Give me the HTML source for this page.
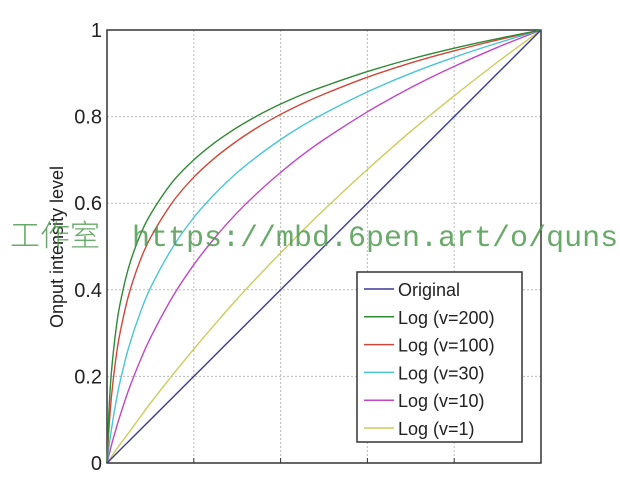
<!DOCTYPE html>
<html><head><meta charset="utf-8"><style>
body{margin:0;background:#fff;}
svg{display:block;font-family:"Liberation Sans",sans-serif;}
</style></head><body>
<svg id="chart" width="620" height="483"></svg>
<script>
const xs=[0,0.005,0.01,0.02,0.03,0.05,0.075,0.1,0.15,0.2,0.25,0.3,0.35,0.4,0.45,0.5,0.6,0.7,0.8,0.9,1];
const seriesNames=["Original","Log (v=200)","Log (v=100)","Log (v=30)","Log (v=10)","Log (v=1)"];
const original=[0,0.005,0.01,0.02,0.03,0.05,0.075,0.1,0.15,0.2,0.25,0.3,0.35,0.4,0.45,0.5,0.6,0.7,0.8,0.9,1];
const log200=[0,0.131,0.207,0.303,0.367,0.452,0.523,0.574,0.648,0.700,0.741,0.775,0.804,0.829,0.851,0.870,0.904,0.933,0.958,0.980,1];
const log100=[0,0.088,0.150,0.238,0.300,0.388,0.464,0.520,0.601,0.660,0.706,0.744,0.777,0.805,0.830,0.852,0.891,0.924,0.952,0.977,1];
const log30=[0,0.041,0.076,0.137,0.187,0.267,0.343,0.404,0.496,0.567,0.623,0.671,0.711,0.747,0.779,0.807,0.857,0.900,0.937,0.970,1];
const log10=[0,0.020,0.040,0.076,0.109,0.169,0.233,0.289,0.382,0.458,0.522,0.578,0.627,0.671,0.711,0.747,0.811,0.867,0.916,0.960,1];
const log1=[0,0.007,0.014,0.029,0.043,0.070,0.104,0.138,0.202,0.263,0.322,0.379,0.433,0.485,0.536,0.585,0.678,0.766,0.848,0.926,1];
const yTicks=[0,0.2,0.4,0.6,0.8,1];
const yTickLabels=["0","0.2","0.4","0.6","0.8","1"];
const xTicks=[0,0.2,0.4,0.6,0.8,1];
const colors=["#3a3a9c","#2f8a35","#d0473a","#48c6d6","#c245c8","#cccc5a"];
const NS="http://www.w3.org/2000/svg";
const svg=document.getElementById('chart');
const L=107,R=541,T=30,B=463;
const sx=v=>L+v*(R-L), sy=v=>B-v*(B-T);
function mk(tag,attrs,parent){const e=document.createElementNS(NS,tag);for(const k in attrs)e.setAttribute(k,attrs[k]);(parent||svg).appendChild(e);return e;}
function smooth(pts){let d='M'+pts[0][0]+','+pts[0][1];for(let i=0;i<pts.length-1;i++){const p0=pts[Math.max(0,i-1)],p1=pts[i],p2=pts[i+1],p3=pts[Math.min(pts.length-1,i+2)];
const c1x=p1[0]+(p2[0]-p0[0])/6,c1y=p1[1]+(p2[1]-p0[1])/6,c2x=p2[0]-(p3[0]-p1[0])/6,c2y=p2[1]-(p3[1]-p1[1])/6;
d+=' C'+c1x.toFixed(1)+','+c1y.toFixed(1)+' '+c2x.toFixed(1)+','+c2y.toFixed(1)+' '+p2[0].toFixed(1)+','+p2[1].toFixed(1);}return d;}
xTicks.forEach((t,i)=>{if(t>0&&t<1){const g=mk('line',{x1:sx(t),x2:sx(t),y1:T,y2:B,stroke:'#bbb','stroke-dasharray':'2,2'});


const tk=mk('line',{x1:sx(t),x2:sx(t),y1:B,y2:B-5,stroke:'#333'});

}});
yTicks.forEach((t,i)=>{if(t>0&&t<1){const g=mk('line',{x1:L,x2:R,y1:sy(t),y2:sy(t),stroke:'#bbb','stroke-dasharray':'2,2'});

}
const lb=mk('text',{x:102,y:sy(t)+7,'text-anchor':'end','font-size':'20',fill:'#222'});
lb.textContent=yTickLabels[i];

});
const frame=mk('rect',{x:L,y:T,width:R-L,height:B-T,fill:'none',stroke:'#333','stroke-width':1.5});


const yl=mk('text',{x:0,y:0,transform:'translate(63,247) rotate(-90)','text-anchor':'middle','font-size':'18',fill:'#222'});
yl.textContent='Onput intensity level';


const all=[original,log200,log100,log30,log10,log1];
const order=[5,4,3,2,1,0];
order.forEach(i=>{const pts=xs.map((x,j)=>[sx(x),sy(all[i][j])]);
const p=mk('path',{d:smooth(pts),fill:'none',stroke:colors[i],'stroke-width':1.4});

});
const lg=mk('g',{});


mk('rect',{x:357,y:272,width:165,height:170,fill:'#fff',stroke:'#333','stroke-width':1.5},lg);
seriesNames.forEach((n,i)=>{const y=289+i*27.8;
const ln=mk('line',{x1:364,x2:394,y1:y,y2:y,stroke:colors[i],'stroke-width':1.5},lg);


const t=mk('text',{x:398,y:y+7,'font-size':'18',fill:'#222'},lg);
t.textContent=n;

});
const wm1=mk('text',{x:10,y:246,'font-size':'30',fill:'#4f9a4f','fill-opacity':'0.85','font-family':'"Noto Sans CJK SC",sans-serif','font-weight':'300'});
wm1.textContent='工作室';


const wm=mk('text',{x:132,y:246,'font-size':'30',fill:'#4f9a4f','fill-opacity':'0.85','font-family':'"Liberation Mono",monospace'});
wm.textContent='https://mbd.6pen.art/o/quns';


</script>
</body></html>
